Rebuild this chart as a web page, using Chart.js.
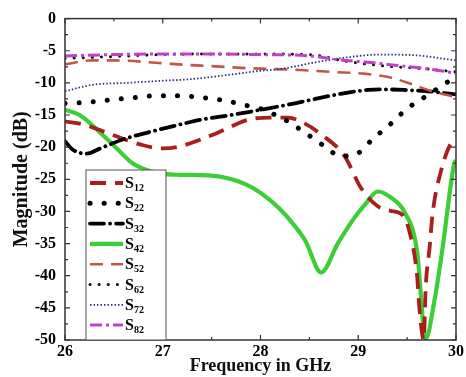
<!DOCTYPE html>
<html>
<head>
<meta charset="utf-8">
<script src="https://cdn.jsdelivr.net/npm/chart.js@4/dist/chart.umd.min.js"></script>
<style>
  html, body { margin: 0; padding: 0; background: #fff; }
  #wrap { width: 466px; height: 377px; }
</style>
</head>
<body>
<div id="wrap"><canvas id="myChart"></canvas></div>
<script>
// data (frequency in GHz, magnitude in dB)
const s12F = [26, 26.2, 26.4, 26.8, 27.0, 27.17, 27.54, 27.88, 28.1, 28.28, 28.45, 28.61, 28.86, 29.03, 29.2, 29.33, 29.45, 29.53, 29.6, 29.63, 29.67, 29.69, 29.73, 29.76, 29.85, 29.94, 30];
const s12 = [-16, -16.5, -17.6, -19.7, -20.2, -19.9, -17.9, -15.7, -15.4, -15.4, -16.3, -17.9, -21.4, -26.4, -29.2, -29.9, -30.5, -33.5, -39.7, -45.8, -50, -41.8, -35.6, -30.4, -23.5, -19.6, -18.5];

const s22F = [26, 26.25, 26.49, 26.71, 26.94, 27.17, 27.4, 27.65, 27.85, 27.95, 28.08, 28.28, 28.47, 28.66, 28.82, 28.99, 29.15, 29.33, 29.5, 29.68, 29.88, 30];
const s22 = [-13.2, -13, -12.6, -12.3, -12, -12, -12.3, -12.8, -13.5, -13.8, -14.5, -16, -17.9, -19.9, -21.4, -21, -18.7, -16.4, -14, -12.2, -10.2, -9];

const s32F = [26, 26.08, 26.22, 26.36, 26.59, 26.93, 27.17, 27.4, 27.7, 28.31, 28.56, 28.82, 29.1, 29.23, 29.47, 29.71, 30];
const s32 = [-19.1, -20.4, -21, -20.2, -18.8, -17.4, -16.5, -15.7, -15, -13.3, -12.5, -11.7, -11.1, -11, -11.1, -11.3, -11.8];

const s42F = [26, 26.15, 26.35, 26.53, 26.69, 26.94, 27.17, 27.47, 27.85, 28.11, 28.31, 28.46, 28.62, 28.79, 28.96, 29.07, 29.2, 29.33, 29.47, 29.6, 29.69, 29.78, 29.86, 29.98, 30];
const s42 = [-14.2, -15, -17.6, -20.2, -22.5, -24, -24.3, -24.4, -25.8, -28.4, -31.5, -34.6, -39.5, -35, -31, -28.9, -26.9, -27.8, -30, -36, -49.8, -43.8, -36, -22.7, -22];

const s52F = [26, 26.28, 26.5, 26.96, 27.24, 27.5, 27.85, 28.4, 28.74, 29.08, 29.31, 29.55, 29.75, 29.91, 30];
const s52 = [-7.1, -6.5, -6.5, -6.9, -7.2, -7.4, -7.7, -8.0, -8.3, -8.6, -9.1, -10.2, -11.3, -11.9, -12.3];

const s62F = [26, 26.5, 27, 27.5, 28, 28.5, 28.86, 29.1, 29.37, 29.68, 30];
const s62 = [-6.2, -5.9, -5.6, -5.5, -5.5, -5.6, -6.6, -7.1, -7.5, -7.8, -8.3];

const s72F = [26, 26.28, 26.63, 26.96, 27.3, 27.65, 27.95, 28.22, 28.56, 28.9, 29.23, 29.58, 29.9, 30];
const s72 = [-11.3, -10.3, -10, -9.7, -9.4, -8.8, -8.2, -7.8, -6.8, -6, -5.6, -5.7, -6.3, -6.5];

const s82F = [26, 26.5, 27, 27.5, 28, 28.5, 28.8, 29.1, 29.4, 29.7, 30];
const s82 = [-5.8, -5.6, -5.5, -5.5, -5.6, -5.8, -6.4, -6.8, -7.3, -7.8, -8.5];

const seriesNames = ["12", "22", "32", "42", "52", "62", "72", "82"];
const xTicks = [26, 27, 28, 29, 30];

const FONT = "'Liberation Serif', 'Times New Roman', serif";

function pts(fs, ys) {
  return fs.map((f, i) => ({ x: f, y: ys[i] }));
}

function makeSet(name, fs, ys, color, width, dash, cap) {
  return {
    label: "S" + name,
    data: pts(fs, ys),
    borderColor: color,
    borderWidth: width,
    borderDash: dash,
    borderCapStyle: cap || "butt",
    pointRadius: 0,
    fill: false,
    cubicInterpolationMode: "monotone",
  };
}

const datasets = [
  makeSet("82", s82F, s82, "#c23fc8", 3, [12, 4, 3, 4]),
  makeSet("72", s72F, s72, "#2b2f86", 1.8, [1.5, 2]),
  makeSet("62", s62F, s62, "#111", 3, [0.1, 9], "round"),
  makeSet("52", s52F, s52, "#c0584a", 2.6, [13, 8]),
  makeSet("32", s32F, s32, "#000", 3.8, [14, 6, 0.1, 6], "round"),
  makeSet("22", s22F, s22, "#000", 5, [0.1, 14], "round"),
  makeSet("12", s12F, s12, "#a91f1c", 3.8, [16, 9]),
  makeSet("42", s42F, s42, "#3bcf35", 4.2, []),
];

// frame, inward ticks and the legend box with subscripts
const framePlugin = {
  id: "frame",
  afterDatasetsDraw(chart) {
    const { ctx, chartArea: a, scales } = chart;
    ctx.save();
    ctx.strokeStyle = "#333";
    ctx.lineWidth = 1.5;
    ctx.strokeRect(a.left, a.top, a.right - a.left, a.bottom - a.top);
    ctx.lineWidth = 1.2;
    ctx.beginPath();
    for (let v = 26; v <= 30.001; v += 0.5) {
      const px = scales.x.getPixelForValue(v);
      const len = Number.isInteger(v) ? 5 : 3;
      ctx.moveTo(px, a.bottom); ctx.lineTo(px, a.bottom - len);
      ctx.moveTo(px, a.top); ctx.lineTo(px, a.top + len);
    }
    for (let v = 0; v >= -50; v -= 2.5) {
      const py = scales.y.getPixelForValue(v);
      const len = v % 5 === 0 ? 5 : 3;
      ctx.moveTo(a.left, py); ctx.lineTo(a.left + len, py);
      ctx.moveTo(a.right, py); ctx.lineTo(a.right - len, py);
    }
    ctx.stroke();

    // legend
    const bx = 86, by = 170, bw = 80, bh = a.bottom - 170;
    ctx.fillStyle = "#fff";
    ctx.fillRect(bx, by, bw, bh);
    ctx.strokeStyle = "#555";
    ctx.lineWidth = 1;
    ctx.strokeRect(bx, by, bw, bh);
    seriesNames.forEach((name, i) => {
      const ds = chart.data.datasets.find((d) => d.label === "S" + name);
      const y = 183 + i * 20.3;
      ctx.save();
      ctx.strokeStyle = ds.borderColor;
      ctx.lineWidth = ds.borderWidth;
      ctx.setLineDash(ds.borderDash);
      ctx.lineCap = ds.borderCapStyle;
      ctx.beginPath();
      ctx.moveTo(90, y);
      ctx.lineTo(123, y);
      ctx.stroke();
      ctx.restore();
      ctx.fillStyle = "#000";
      ctx.textBaseline = "alphabetic";
      ctx.font = "bold 16px " + FONT;
      ctx.fillText("S", 125, y + 5);
      ctx.font = "bold 10px " + FONT;
      ctx.fillText(name, 134, y + 8);
    });
    ctx.restore();
  },
};

const ctx = document.getElementById("myChart").getContext("2d");
new Chart(ctx, {
  type: "line",
  data: { datasets: datasets },
  plugins: [framePlugin],
  options: {
    responsive: true,
    maintainAspectRatio: false,
    animation: false,
    layout: { padding: { top: 16, right: 7, left: 0, bottom: 0 } },
    plugins: { legend: { display: false }, tooltip: { enabled: false } },
    scales: {
      x: {
        type: "linear",
        min: 26,
        max: 30,
        afterBuildTicks: (s) => { s.ticks = xTicks.map((v) => ({ value: v })); },
        afterFit: (s) => { s.height = 37; },
        grid: { display: false, drawTicks: false, tickLength: 0 },
        border: { display: false },
        ticks: { color: "#000", padding: 2, font: { family: FONT, size: 16, weight: "bold" } },
        title: {
          display: true,
          text: "Frequency in GHz",
          color: "#111",
          padding: { top: 0, bottom: 0 },
          font: { family: FONT, size: 18, weight: "bold" },
        },
      },
      y: {
        min: -50,
        max: 0,
        afterFit: (s) => { s.width = 65; },
        grid: { display: false, drawTicks: false, tickLength: 0 },
        border: { display: false },
        ticks: { stepSize: 5, color: "#000", padding: 9, font: { family: FONT, size: 16, weight: "bold" } },
        title: {
          display: true,
          text: "Magnitude (dB)",
          color: "#111",
          padding: { top: 10, bottom: 0 },
          font: { family: FONT, size: 20, weight: "bold" },
        },
      },
    },
  },
});
</script>
</body>
</html>
